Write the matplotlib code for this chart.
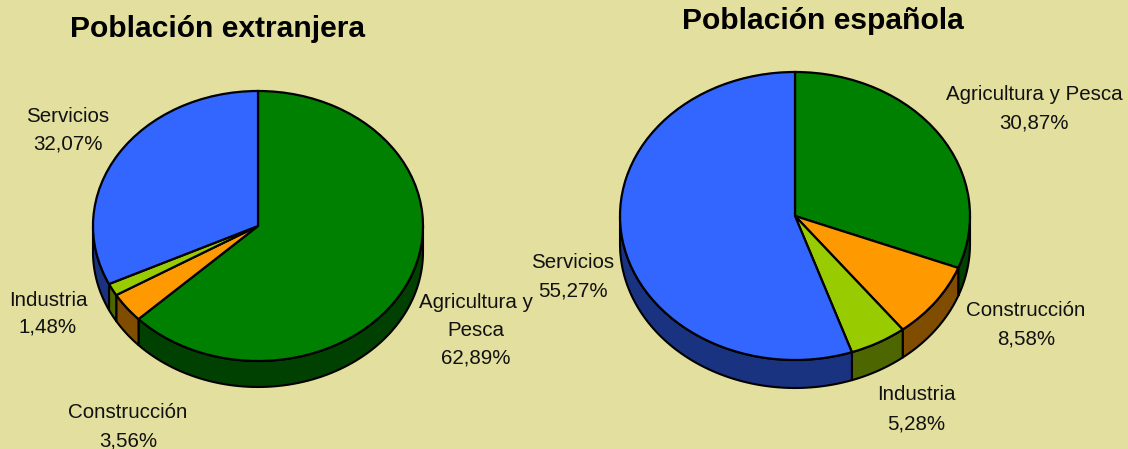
import numpy as np
import matplotlib
matplotlib.use("Agg")
import matplotlib.pyplot as plt

categories = ["Agricultura y Pesca", "Construcción", "Industria", "Servicios"]
extranjera = [62.89, 3.56, 1.48, 32.07]
espanola = [30.87, 8.58, 5.28, 55.27]
top_colors = ["#008000", "#FF9900", "#99CC00", "#3366FF"]
side_colors = ["#004000", "#804D00", "#4D6600", "#1A3380"]
BG = "#E3DF9E"
W, H = 1128, 449
plt.rcParams["font.family"] = ["Liberation Sans", "DejaVu Sans"]
fig = plt.figure(figsize=(W / 100, H / 100), dpi=100, facecolor=BG)


def draw_pie(values, cx, cy, rx, ry, depth):
    ax = fig.add_axes([(cx - rx) / W, 1 - (cy + ry) / H, 2 * rx / W, 2 * ry / H])
    d = depth / ry
    shares = np.array(values) / sum(values)
    edges = 90 - 360 * np.concatenate([[0], np.cumsum(shares)])
    # side wall: each wedge's arc on the front half extruded downward
    for i, col in enumerate(side_colors):
        a1, a0 = edges[i], edges[i + 1]
        lo, hi = max(a0, -180), min(a1, 0)
        if hi <= lo:
            continue
        t = np.radians(np.linspace(lo, hi, 80))
        x = np.cos(t)
        y = np.sin(t)
        ax.fill(np.r_[x, x[::-1]], np.r_[y, y[::-1] - d], fc=col, ec="black", lw=1.5,
                clip_on=False, zorder=1, joinstyle="round")
    wedges, _ = ax.pie(values, colors=top_colors, startangle=90, counterclock=False,
                       radius=1, wedgeprops=dict(edgecolor="black", linewidth=1.6))
    for w in wedges:
        w.set_clip_on(False)
        w.set_zorder(2)
    ax.set_aspect("auto")
    ax.set_xlim(-1, 1)
    ax.set_ylim(-1, 1)
    ax.axis("off")


draw_pie(extranjera, 258, 226, 165, 135, 26)
draw_pie(espanola, 795, 216, 175, 144, 28)


def label(px, py, s, color="#111111", **kw):
    fig.text(px / W, 1 - py / H, s, ha="center", va="center", color=color, **kw)


label(218, 29, "Población extranjera", color="black", fontsize=21.6, fontweight="bold")
label(823, 21, "Población española", color="black", fontsize=21.6, fontweight="bold")

tick_size = 14.8
for px, py, s in [
    (68, 116, "Servicios"), (68, 144, "32,07%"),
    (48, 300, "Industria"), (48, 327, "1,48%"),
    (476, 302, "Agricultura y"), (476, 330, "Pesca"), (476, 358, "62,89%"),
    (128, 412, "Construcción"), (128, 441, "3,56%"),
    (1034, 95, "Agricultura y Pesca"), (1034, 123, "30,87%"),
    (573, 263, "Servicios"), (573, 291, "55,27%"),
    (1026, 311, "Construcción"), (1026, 339, "8,58%"),
    (916, 395, "Industria"), (916, 424, "5,28%"),
]:
    label(px, py, s, fontsize=tick_size)

fig.savefig("out.png", dpi=100, facecolor=BG)
